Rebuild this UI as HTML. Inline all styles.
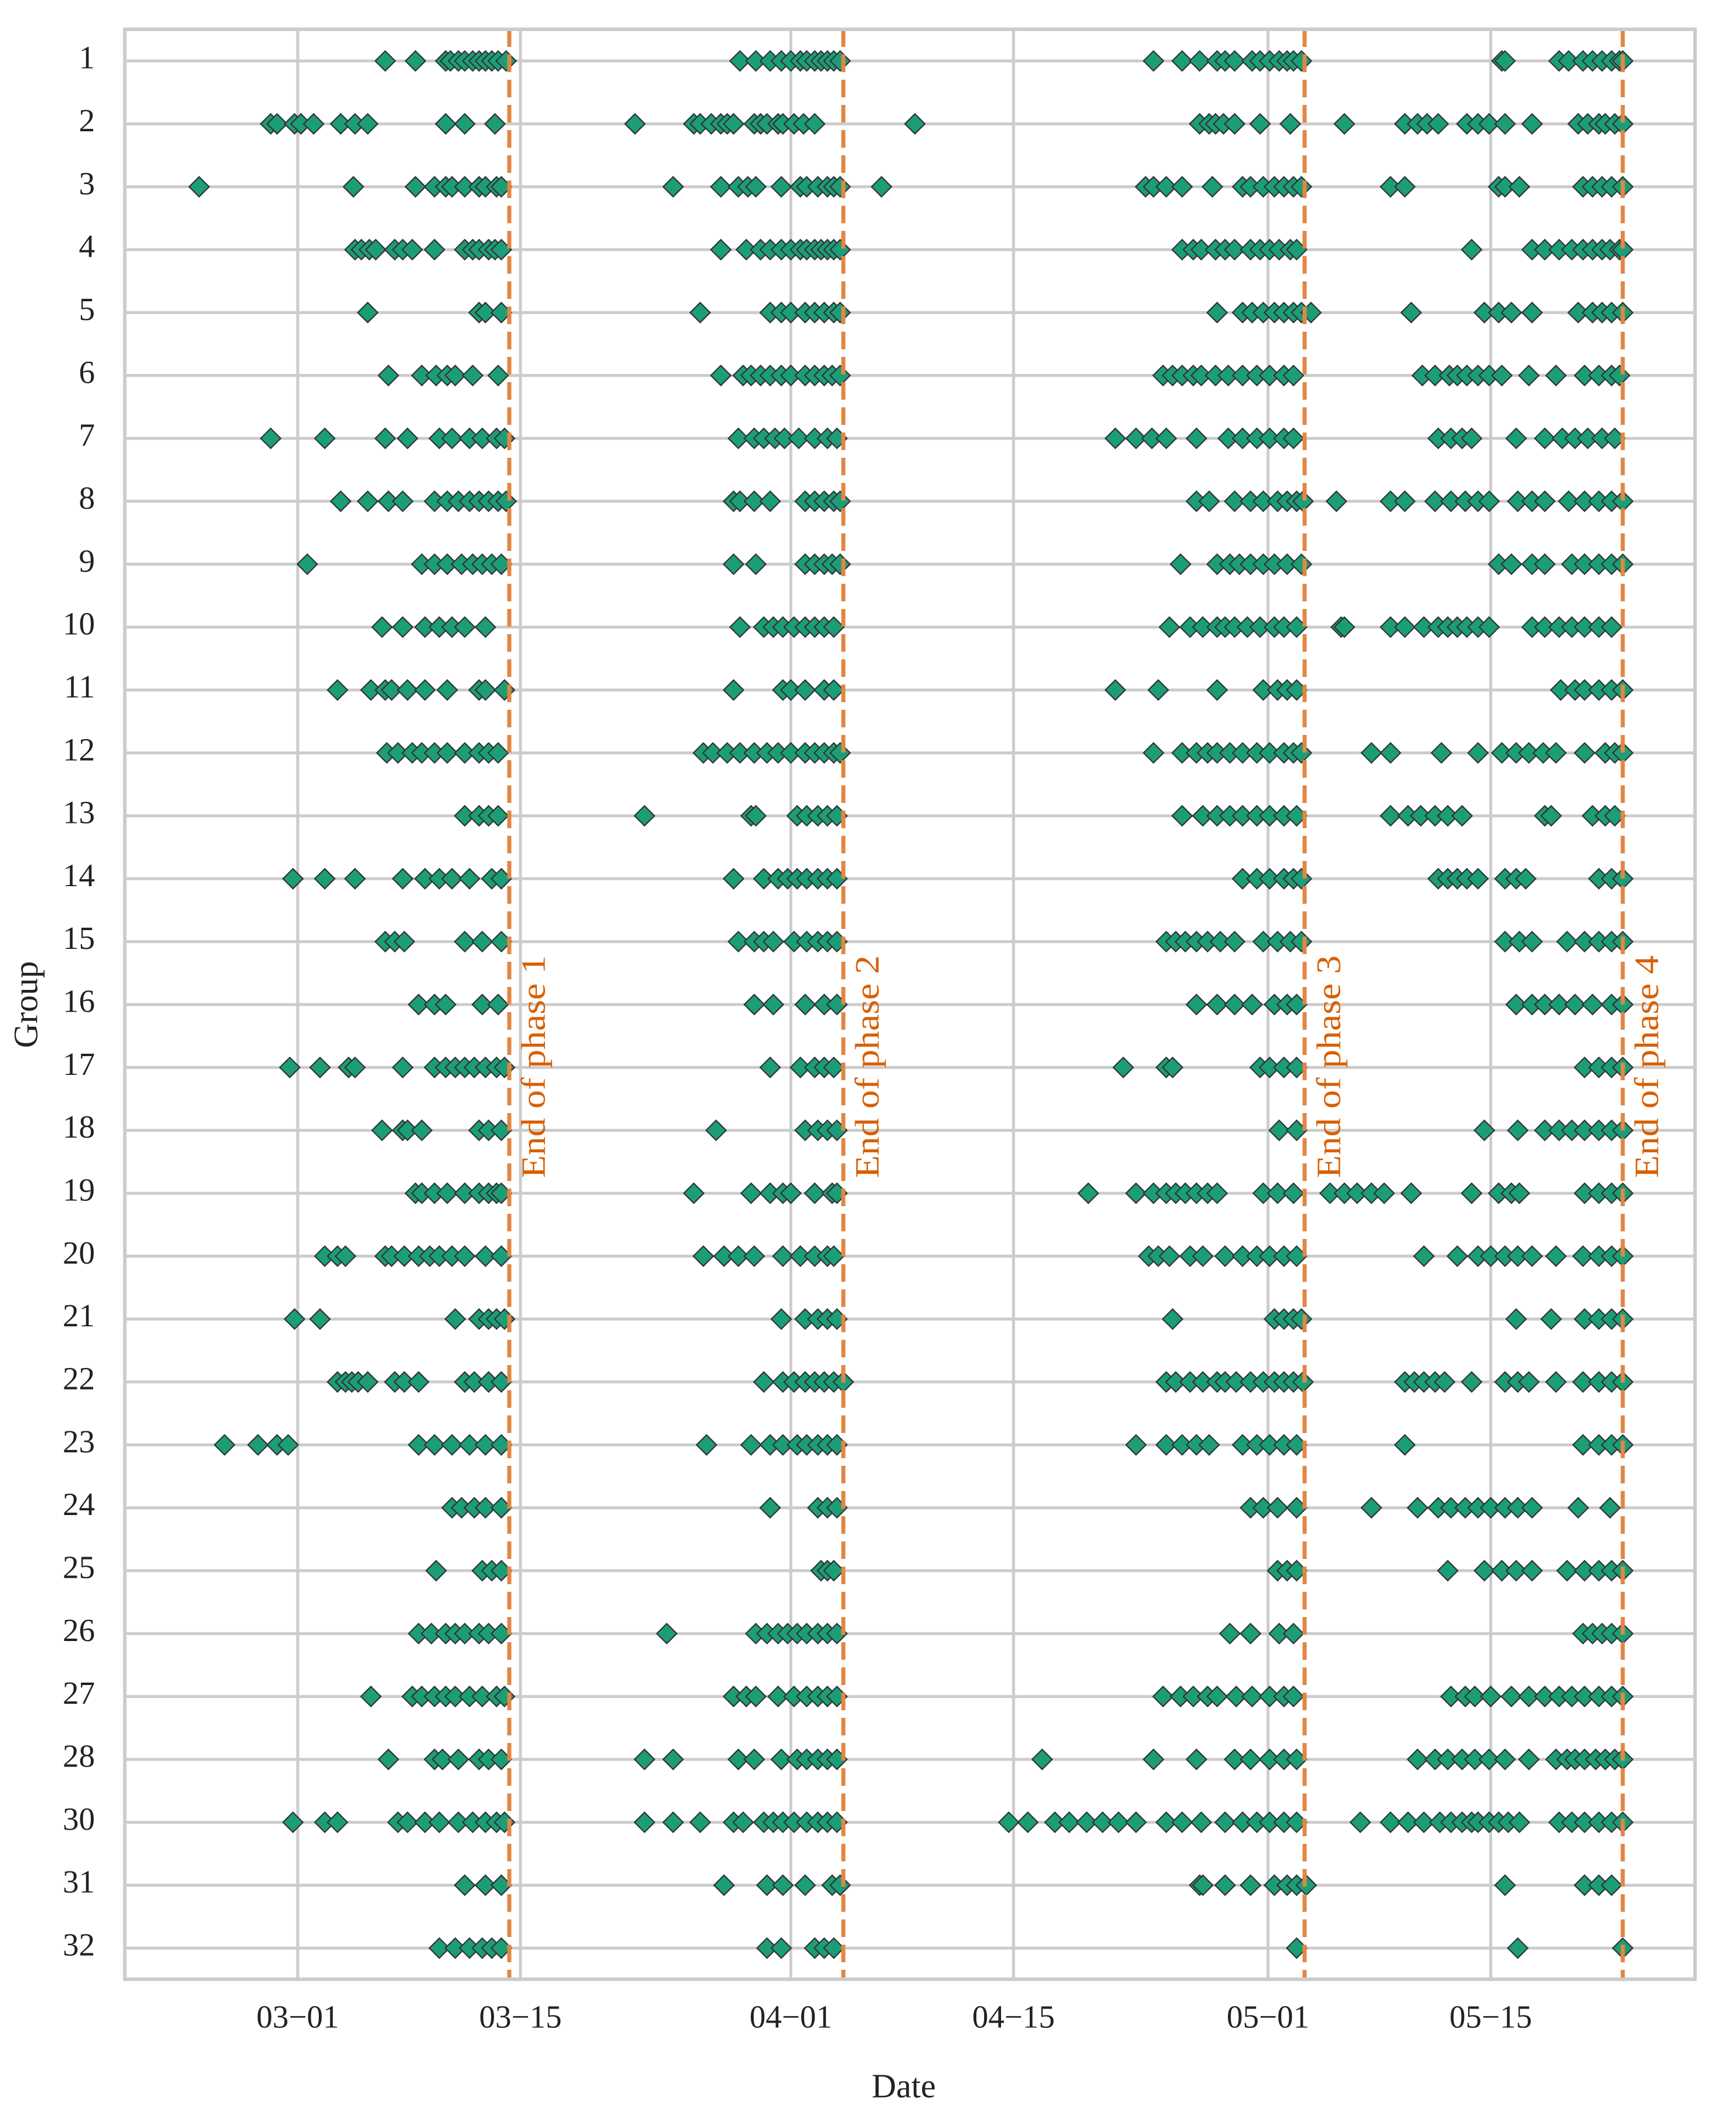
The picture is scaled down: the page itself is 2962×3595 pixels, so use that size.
<!DOCTYPE html>
<html><head><meta charset="utf-8"><style>
html,body{margin:0;padding:0;background:#fff;}
svg{display:block;font-family:"Liberation Serif",serif;}
</style></head><body>
<svg id="chart" width="2962" height="3595" viewBox="0 0 2962 3595" xmlns="http://www.w3.org/2000/svg">
<rect x="0" y="0" width="2962" height="3595" fill="#fff"/>
<g id="grid"></g>
<g id="marks"></g>
<g id="phases"></g>
<g id="axes"></g>
<text x="50" y="1714" font-size="58" fill="#222" text-anchor="middle" dominant-baseline="middle" transform="rotate(-90 50 1714)">Group</text>
<text x="1542" y="3565" font-size="58" fill="#222" text-anchor="middle" dominant-baseline="middle">Date</text>
</svg>
<script>
// Data: days since 03-01
const groups = ["1","2","3","4","5","6","7","8","9","10","11","12","13","14","15","16","17","18","19","20","21","22","23","24","25","26","27","28","30","31","32"];
const xTickDays = [0,14,31,45,61,75];
const xTickLabels = ["03\u221201","03\u221215","04\u221201","04\u221215","05\u221201","05\u221215"];
const phaseDays = [13.3,34.3,63.3,83.3];
const phaseLabels = ["End of phase 1","End of phase 2","End of phase 3","End of phase 4"];
const g1=[5.5,7.4,9.3,9.6,10.1,10.5,11.0,11.4,11.8,12.2,12.6,13.1,27.8,28.8,29.7,30.4,31.0,31.6,32.0,32.5,32.9,33.3,33.7,34.1,53.8,55.6,56.7,57.8,58.3,58.9,60.0,60.5,61.1,61.7,62.2,62.6,63.1,75.7,75.9,79.3,79.9,80.8,81.4,82.0,82.6,83.1,83.3];
const g2=[-1.7,-1.3,-0.2,0.2,1.0,2.7,3.6,4.4,9.3,10.5,12.4,21.2,24.9,25.3,26.0,26.6,27.0,27.4,28.7,29.1,29.5,30.2,30.5,31.2,31.8,32.5,38.8,56.7,57.3,57.7,58.2,58.9,60.5,62.4,65.8,69.6,70.4,71.0,71.7,73.5,74.2,74.9,75.9,77.6,80.5,81.1,81.8,82.2,82.8,83.3];
const g3=[-6.2,3.5,7.4,8.6,9.3,9.7,10.5,11.4,11.8,12.5,12.8,23.6,26.6,27.7,28.3,28.8,30.4,31.6,32.0,32.7,33.3,33.7,34.1,36.7,53.3,53.8,54.6,55.6,57.5,59.4,59.9,60.7,61.4,62.0,62.6,63.1,68.7,69.6,75.5,75.9,76.8,80.8,81.4,82.0,82.6,83.3];
const g4=[3.6,4.0,4.5,4.9,6.1,6.6,7.2,8.6,10.5,11.0,11.4,12.0,12.4,12.8,26.6,28.2,29.1,29.7,30.4,31.0,31.6,32.0,32.5,32.9,33.3,33.7,34.1,55.6,56.3,56.8,57.7,58.3,58.9,59.9,60.5,61.1,61.7,62.4,62.8,73.8,77.6,78.4,79.3,80.1,80.8,81.4,82.0,82.5,83.1,83.3];
const g5=[4.4,11.4,11.8,12.8,25.3,29.7,30.4,31.0,31.9,32.5,33.1,33.7,34.1,57.8,59.4,60.0,60.7,61.4,62.0,62.6,63.1,63.7,70.0,74.6,75.5,76.3,77.6,80.5,81.4,82.0,82.6,83.3];
const g6=[5.7,7.8,8.7,9.4,9.9,11.0,12.6,26.6,28.0,28.5,29.1,29.7,30.4,31.0,31.9,32.5,33.1,33.6,34.1,54.4,55.0,55.6,56.3,56.8,57.7,58.5,59.4,60.3,61.1,62.0,62.6,70.7,71.5,72.4,72.9,73.5,74.2,74.9,75.7,77.4,79.1,80.9,81.8,82.6,83.1];
const g7=[-1.7,1.7,5.5,6.9,8.9,9.7,10.8,11.6,12.5,13.0,27.7,28.7,29.3,30.0,30.6,31.5,32.5,33.3,33.9,51.4,52.7,53.7,54.6,56.5,58.5,59.4,60.3,61.1,62.0,62.6,71.7,72.5,73.2,73.8,76.6,78.4,79.5,80.3,81.1,82.0,82.8];
const g8=[2.7,4.4,5.7,6.6,8.6,9.4,10.1,10.8,11.4,12.0,12.6,13.1,27.4,27.8,28.7,29.7,31.9,32.5,33.1,33.7,34.1,56.5,57.3,58.9,59.9,60.7,61.6,62.2,62.8,63.2,65.3,68.7,69.6,71.5,72.5,73.4,74.2,74.9,76.7,77.6,78.4,79.9,80.9,81.8,82.6,83.3];
const g9=[0.6,7.8,8.6,9.4,10.3,11.0,11.6,12.2,12.8,27.4,28.8,31.9,32.5,33.1,33.6,34.1,55.5,57.8,58.6,59.2,59.9,60.7,61.4,62.2,63.1,75.5,76.3,77.6,78.4,80.1,80.9,81.8,82.6,83.3];
const g10=[5.3,6.6,8.0,8.9,9.7,10.5,11.8,27.8,29.3,29.9,30.5,31.2,31.9,32.5,33.1,33.7,54.8,56.1,56.9,57.8,58.3,58.9,59.7,60.5,61.4,62.0,62.8,65.6,65.8,68.7,69.6,70.8,71.7,72.3,72.9,73.5,74.2,74.9,77.6,78.4,79.3,80.1,80.9,81.8,82.6];
const g11=[2.5,4.6,5.5,5.9,6.9,8.0,9.4,11.4,11.8,13.0,27.4,30.5,31.0,31.9,33.1,33.7,51.4,54.1,57.8,60.7,61.6,62.2,62.8,79.4,80.3,80.9,81.8,82.6,83.3];
const g12=[5.6,6.3,7.2,7.8,8.6,9.4,10.5,11.4,12.0,12.6,25.5,26.1,27.0,27.8,28.7,29.5,30.2,31.0,31.9,32.5,33.1,33.7,34.1,53.8,55.6,56.5,57.2,57.8,58.6,59.4,60.3,61.1,62.0,62.6,63.1,67.5,68.7,71.9,74.2,75.7,76.6,77.4,78.3,79.1,80.9,82.2,82.8,83.3];
const g13=[10.5,11.4,12.0,12.6,21.8,28.5,28.8,31.4,32.0,32.7,33.3,33.9,55.6,56.9,57.8,58.6,59.4,60.3,61.1,62.0,62.8,68.7,69.8,70.6,71.5,72.3,73.2,78.4,78.8,81.4,82.2,82.8];
const g14=[-0.3,1.7,3.6,6.6,8.0,8.9,9.7,10.8,12.2,12.8,27.4,29.3,30.2,30.8,31.4,32.0,32.7,33.3,33.9,59.4,60.3,61.1,62.0,62.6,63.1,71.7,72.3,72.9,73.5,74.2,75.9,76.6,77.2,81.8,82.6,83.3];
const g15=[5.5,6.1,6.7,10.5,11.6,12.8,27.7,28.7,29.3,29.9,31.2,32.0,32.7,33.3,33.9,54.6,55.2,55.8,56.5,57.2,58.0,58.9,60.7,61.6,62.4,63.1,75.9,76.8,77.6,79.8,80.9,81.8,82.6,83.3];
const g16=[7.6,8.6,9.3,11.6,12.6,28.7,29.9,31.9,33.1,33.9,56.5,57.8,58.9,60.0,61.4,62.2,62.8,76.6,77.6,78.4,79.3,80.3,81.4,82.6,83.3];
const g17=[-0.5,1.4,3.2,3.6,6.6,8.6,9.3,9.9,10.5,11.1,11.8,12.5,13.0,29.7,31.6,32.5,33.1,33.7,51.9,54.6,55.0,60.5,61.1,62.0,62.8,80.9,81.8,82.6,83.3];
const g18=[5.3,6.6,6.9,7.8,11.4,12.0,12.8,26.3,31.9,32.7,33.3,33.9,61.7,62.8,74.6,76.7,78.4,79.3,80.1,80.9,81.8,82.6,83.3];
const g19=[7.4,7.8,8.6,9.4,10.5,11.4,12.0,12.5,12.8,24.9,28.5,29.7,30.5,31.0,32.5,33.6,33.9,49.7,52.7,53.8,54.6,55.2,55.8,56.5,57.2,57.8,60.7,61.6,62.6,64.9,65.8,66.6,67.5,68.3,70.0,73.8,75.5,76.3,76.8,80.9,81.8,82.6,83.3];
const g20=[1.7,2.5,3.0,5.5,5.9,6.7,7.6,8.3,8.9,9.7,10.5,11.8,12.8,25.5,26.8,27.7,28.7,30.5,31.6,32.5,33.3,33.7,53.5,54.1,54.8,56.1,56.9,58.3,59.4,60.3,61.1,62.0,62.8,70.8,72.9,74.2,75.0,75.9,76.7,77.6,79.1,80.8,81.8,82.6,83.3];
const g21=[-0.2,1.4,9.9,11.4,12.0,12.5,13.0,30.4,31.9,32.7,33.3,33.9,55.0,61.4,62.0,62.6,63.1,76.6,78.8,80.9,81.8,82.6,83.3];
const g22=[2.5,3.0,3.4,3.8,4.4,6.1,6.7,7.6,10.5,11.1,12.0,12.8,29.3,30.5,31.2,31.9,32.5,33.1,33.7,34.3,54.6,55.2,56.1,56.9,57.8,58.3,59.0,59.9,60.7,61.4,62.0,62.6,63.2,69.6,70.2,70.8,71.5,72.1,73.8,75.9,76.7,77.4,79.1,80.8,81.8,82.6,83.3];
const g23=[-4.6,-2.5,-1.3,-0.6,7.6,8.6,9.7,10.8,11.8,12.8,25.7,28.5,29.7,30.5,31.4,32.0,32.7,33.3,33.9,52.7,54.6,55.6,56.5,57.3,59.4,60.3,61.1,62.0,62.8,69.6,80.8,81.8,82.6,83.3];
const g24=[9.7,10.3,11.1,11.8,12.8,29.7,32.7,33.3,33.9,59.9,60.7,61.6,62.8,67.5,70.4,71.7,72.5,73.4,74.2,75.0,75.9,76.7,77.6,80.5,82.5];
const g25=[8.7,11.6,12.2,12.8,32.9,33.3,33.7,61.6,62.2,62.8,72.3,74.6,75.7,76.6,77.6,79.8,80.9,81.8,82.6,83.3];
const g26=[7.6,8.4,9.3,9.9,10.5,11.4,12.0,12.8,23.2,28.8,29.5,30.2,30.8,31.4,32.0,32.7,33.3,33.9,58.6,59.9,61.7,62.6,80.8,81.4,82.0,82.6,83.3];
const g27=[4.6,7.2,7.8,8.6,9.3,9.9,10.8,11.6,12.5,13.0,27.4,28.2,28.8,30.2,31.2,32.0,32.7,33.3,33.9,54.4,55.5,56.3,57.2,57.8,59.0,60.0,61.1,62.0,62.6,72.5,73.4,74.0,75.0,76.3,77.4,78.4,79.3,80.1,80.9,81.8,82.6,83.3];
const g28=[5.7,8.6,9.1,10.1,11.4,12.0,12.8,21.8,23.6,27.7,28.7,30.4,31.4,32.0,32.7,33.3,33.9,46.8,53.8,56.5,58.9,59.9,61.1,62.0,62.8,70.4,71.5,72.3,73.2,74.0,74.9,75.9,77.4,79.1,79.8,80.3,80.9,81.6,82.2,82.8,83.3];
const g30=[-0.3,1.7,2.5,6.3,6.9,8.0,8.9,10.1,11.0,11.8,12.5,13.0,21.8,23.6,25.3,27.4,28.0,29.3,29.9,30.5,31.2,32.0,32.7,33.3,33.9,44.7,45.9,47.6,48.5,49.6,50.6,51.6,52.7,54.6,55.6,56.8,58.3,59.4,60.3,61.1,62.0,62.8,66.8,68.7,69.8,70.8,71.8,72.5,73.2,73.8,74.2,74.9,75.5,76.1,76.8,79.3,80.1,80.9,81.8,82.6,83.3];
const g31=[10.5,11.8,12.8,26.8,29.5,30.5,31.9,33.6,34.1,56.7,56.9,58.3,59.9,61.4,62.2,62.8,63.4,75.9,80.9,81.8,82.6];
const g32=[8.9,9.9,10.8,11.6,12.2,12.8,29.5,30.4,32.5,33.1,33.7,62.8,76.7,83.3];
const series=[g1,g2,g3,g4,g5,g6,g7,g8,g9,g10,g11,g12,g13,g14,g15,g16,g17,g18,g19,g20,g21,g22,g23,g24,g25,g26,g27,g28,g30,g31,g32];

const NS="http://www.w3.org/2000/svg";
const L=213,R=2892,T=50,B=3377;
function xScale(d){return 508+d*27.14;}
function yScale(i){return 104+i*107.33;}
function mk(tag,attrs,parent){const e=document.createElementNS(NS,tag);for(const k in attrs)e.setAttribute(k,attrs[k]);parent.appendChild(e);return e;}
const grid=document.getElementById('grid'),marks=document.getElementById('marks'),phases=document.getElementById('phases'),axes=document.getElementById('axes');

xTickDays.forEach((d,i)=>{
  const x=xScale(d);
  const ln=mk('line',{x1:x,x2:x,y1:T,y2:B,stroke:'#cccccc','stroke-width':5},grid);
  
  
  const t=mk('text',{x:x,y:3447,'font-size':55,fill:'#222','text-anchor':'middle','dominant-baseline':'middle'},axes);
  t.textContent=xTickLabels[i];
  
  
});
groups.forEach((g,i)=>{
  const y=yScale(i);
  const ln=mk('line',{x1:L,x2:R,y1:y,y2:y,stroke:'#cccccc','stroke-width':5},grid);
  
  
  const t=mk('text',{x:162,y:y,'font-size':55,fill:'#222','text-anchor':'end','dominant-baseline':'middle'},axes);
  t.textContent=g;
  
  
});
const frame=mk('rect',{x:L,y:T,width:R-L,height:B-T,fill:'none',stroke:'#cccccc','stroke-width':6},axes);



series.forEach((arr,i)=>{
  const y=yScale(i);
  arr.forEach(d=>{
    const x=xScale(d),h=17;
    const p=mk('polygon',{points:`${x-h},${y} ${x},${y-h} ${x+h},${y} ${x},${y+h}`,fill:'#1b9e77',stroke:'#333333','stroke-width':2.2},marks);
    
    
  });
});
phaseDays.forEach((d,i)=>{
  const x=xScale(d);
  const ln=mk('line',{x1:x,x2:x,y1:T,y2:B,stroke:'#e28743','stroke-width':7,'stroke-dasharray':'30 13'},phases);
  
  
  const tx=x+47,ty=1820;
  const t=mk('text',{x:tx,y:ty,'font-size':58,fill:'#d95f02','text-anchor':'middle','dominant-baseline':'middle',textLength:380,lengthAdjust:'spacingAndGlyphs',transform:`rotate(-90 ${tx} ${ty})`},phases);
  t.textContent=phaseLabels[i];
  
  
});
</script>
</body></html>
